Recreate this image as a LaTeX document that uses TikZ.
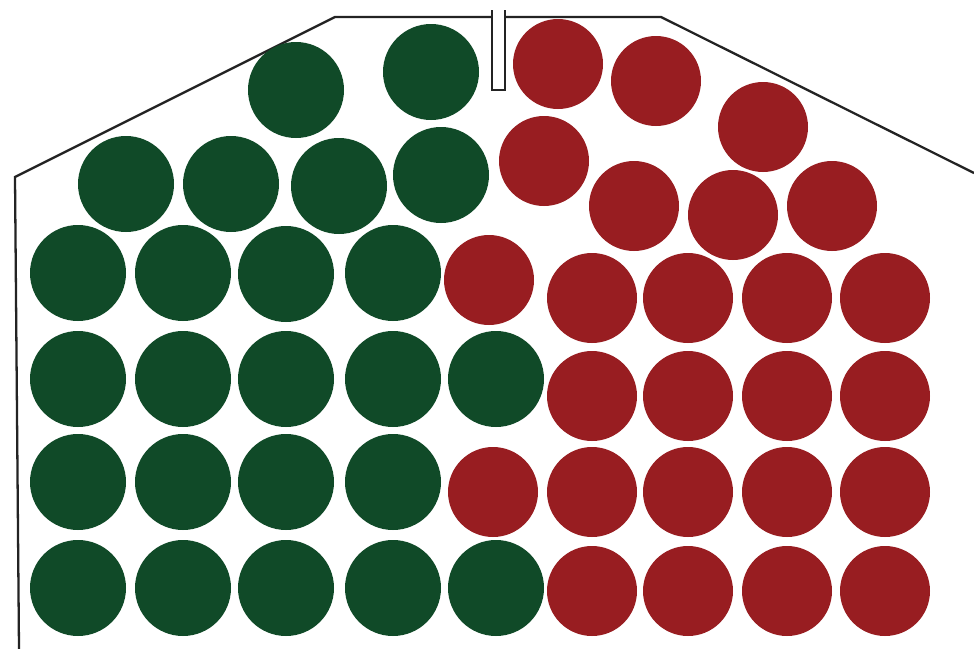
\documentclass[tikz,border=0pt]{standalone}
\usepackage{tikz}
\definecolor{beadgreen}{RGB}{16,74,40}
\definecolor{beadred}{RGB}{152,29,33}
\definecolor{wallgray}{RGB}{35,35,35}

\begin{document}
\begin{tikzpicture}[x=.02cm,y=-.02cm,
  greenbead/.style={fill=beadgreen},
  redbead/.style={fill=beadred},
  wallline/.style={draw=wallgray,line width=1.3pt,line join=miter}]
\useasboundingbox (0,0) rectangle (974,649);
% container outline with the slot in the lid
\draw[wallline] (19,649) -- (15,177) -- (335,17) -- (492,17);
\draw[wallline] (505,17) -- (661,17) -- (974,173);
\draw[wallline] (492,10) -- (492,90) -- (505,90) -- (505,10);
% green beads
\foreach \x/\y in {296/90,431/72,
  126/184,231/184,339/186,441/175,
  78/273,183/273,286/274,393/273,
  78/379,183/379,286/379,393/379,496/379,
  78/482,183/482,286/482,393/482,
  78/588,183/588,286/588,393/588,496/588}
  \fill[greenbead] (\x,\y) circle[radius=48];
% red beads
\foreach \x/\y in {558/64,656/81,763/127,544/161,634/206,733/215,832/206,
  489/280,493/492}
  \fill[redbead] (\x,\y) circle[radius=45];
\foreach \x in {592,688,787,885}
  \foreach \y in {298,396,492,591}
    \fill[redbead] (\x,\y) circle[radius=45];
\end{tikzpicture}
\end{document}
